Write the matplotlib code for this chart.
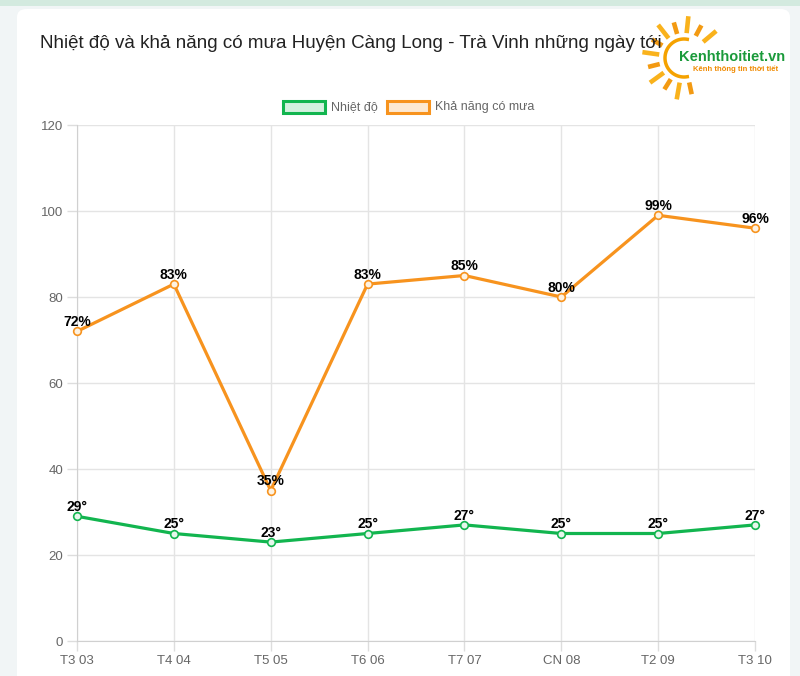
import matplotlib.pyplot as plt
from matplotlib.patches import FancyBboxPatch, Rectangle
import numpy as np

plt.rcParams["font.family"] = ["Liberation Sans", "DejaVu Sans"]

# data
days = ["T3 03", "T4 04", "T5 05", "T6 06", "T7 07", "CN 08", "T2 09", "T3 10"]
temp = [29, 25, 23, 25, 27, 25, 25, 27]
rain = [72, 83, 35, 83, 85, 80, 99, 96]

green = "#12b54f"
orange = "#f7931e"
grey = "#666666"

fig = plt.figure(figsize=(8, 6.76), dpi=100)
fig.patch.set_facecolor("#f1f5f6")

# top band and white card (behind the axes)
fig.patches.append(Rectangle((0, 1 - 6 / 676), 1, 6 / 676, transform=fig.transFigure,
                             facecolor="#d3eadf", edgecolor="none", zorder=-5))
fig.patches.append(FancyBboxPatch((17 / 800, -0.05), 773 / 800, 1.05 - 9 / 676,
                                  boxstyle="round,pad=0,rounding_size=0.012",
                                  transform=fig.transFigure, facecolor="white",
                                  edgecolor="none", zorder=-5))

ax = fig.add_axes([77 / 800, 35 / 676, 678 / 800, 516 / 676])
ax.set_facecolor("none")
x = np.arange(len(days))

ax.plot(x, temp, color=green, lw=2.3, marker="o", ms=5.5, mfc="#e6f7ec",
        mec=green, mew=1.2, zorder=3, clip_on=False)
ax.plot(x, rain, color=orange, lw=2.3, marker="o", ms=5.5, mfc="#fdf2e2",
        mec=orange, mew=1.2, zorder=3, clip_on=False)

for i, v in enumerate(temp):
    ax.annotate(f"{v}°", (i, v), xytext=(0, 1.5), textcoords="offset points",
                ha="center", va="bottom", fontsize=10, fontweight="bold", color="black", zorder=5)
for i, v in enumerate(rain):
    ax.annotate(f"{v}%", (i, v), xytext=(0, 1.5), textcoords="offset points",
                ha="center", va="bottom", fontsize=10, fontweight="bold", color="black", zorder=5)

ax.set_xlim(0, len(days) - 1)
ax.set_ylim(0, 120)
ax.set_yticks(range(0, 121, 20))
ax.set_xticks(x)
ax.set_xticklabels(days)
ax.grid(True, color="#e4e4e4", lw=1)
ax.tick_params(colors="#dddddd", labelcolor=grey, labelsize=9.5, length=7, width=1, pad=3)
for s in ["top", "right"]:
    ax.spines[s].set_visible(False)
for s in ["left", "bottom"]:
    ax.spines[s].set_color("#d0d0d0")

# title
fig.text(40 / 800, 1 - 43 / 676, "Nhiệt độ và khả năng có mưa Huyện Càng Long - Trà Vinh những ngày tới",
         fontsize=13.5, color="#222222", va="center", ha="left")

# legend
def legend_item(xpix, label, edge, face):
    fig.patches.append(Rectangle((xpix / 800, 1 - 113 / 676), 42 / 800, 12 / 676,
                                 transform=fig.transFigure, facecolor=face, edgecolor=edge, lw=2.2))
    fig.text((xpix + 48) / 800, 1 - 107 / 676, label, fontsize=9, color=grey, va="center", ha="left")

legend_item(283, "Nhiệt độ", green, "#d4f1df")
legend_item(387, "Khả năng có mưa", orange, "#fde9d2")

# logo (sun + text)
cx, cy = 684, 58
lax = fig.add_axes([0, 0, 1, 1], facecolor="none")
lax.set_xlim(0, 800)
lax.set_ylim(676, 0)
lax.axis("off")
for k, ang in enumerate(np.arange(40, 300, 22)):
    a = np.deg2rad(ang)
    r1 = 25
    r2 = 42 if k % 2 == 0 else 37
    col = "#f9b21c" if k % 2 == 0 else "#f39a12"
    lax.plot([cx + r1 * np.cos(a), cx + r2 * np.cos(a)],
             [cy - r1 * np.sin(a), cy - r2 * np.sin(a)], color=col, lw=3.3, solid_capstyle="butt")
t = np.linspace(np.deg2rad(80), np.deg2rad(280), 80)
lax.plot(cx + 19 * np.cos(t), cy - 19 * np.sin(t), color="#f5a200", lw=2.5)
lax.text(679, 57, "Kenhthoitiet.vn", fontsize=10.5, fontweight="bold", color="#1a9a3a", va="center", ha="left",
         bbox=dict(facecolor="white", edgecolor="none", pad=0.5, alpha=0.7))
lax.text(693, 69, "Kênh thông tin thời tiết", fontsize=5.5, fontweight="bold", color="#f08a00", va="center", ha="left")

fig.savefig("out.png", dpi=100)
